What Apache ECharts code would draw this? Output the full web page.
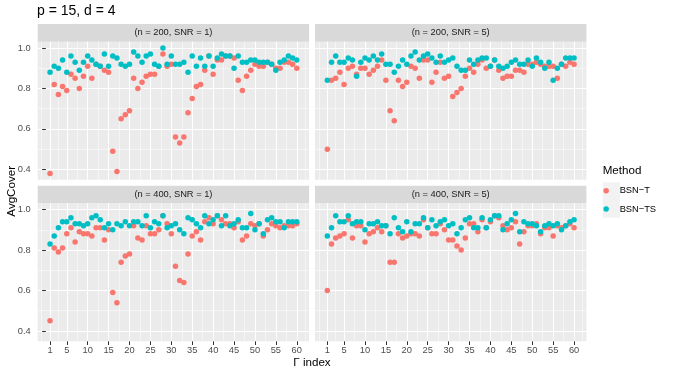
<!DOCTYPE html>
<html>
<head>
<meta charset="utf-8">
<script src="https://cdn.jsdelivr.net/npm/echarts@6/dist/echarts.min.js"></script>
<style>
  html, body { margin: 0; padding: 0; background: #fff; }
  #chart { width: 675px; height: 375px; }
</style>
</head>
<body>
<div id="chart"></div>
<script>
// Γ index 1..60
const gammaIndex = Array.from({ length: 60 }, (_, i) => i + 1)
const xBreaks = [1, 5, 10, 15, 20, 25, 30, 35, 40, 45, 50, 55, 60]
const xMinor = [-1, 3, 7.5, 12.5, 17.5, 22.5, 27.5, 32.5, 37.5, 42.5, 47.5, 52.5, 57.5, 62]
const yBreaks = [0.4, 0.6, 0.8, 1.0]
const yMinor = [0.5, 0.7, 0.9]
const panelLabels = ['(n = 200, SNR = 1)', '(n = 200, SNR = 5)', '(n = 400, SNR = 1)', '(n = 400, SNR = 5)']
const methods = ['BSN\u2212T', 'BSN\u2212TS']

// AvgCover, BSN-T
const t200snr1 = [0.38, 0.82, 0.77, 0.81, 0.79, 0.87, 0.85, 0.80, 0.86, 0.91,
  0.85, 0.92, 0.91, 0.89, 0.88, 0.49, 0.39, 0.65, 0.67, 0.69,
  0.85, 0.80, 0.83, 0.86, 0.87, 0.87, 0.91, 0.97, 0.91, 0.92,
  0.56, 0.53, 0.56, 0.68, 0.75, 0.81, 0.82, 0.89, 0.96, 0.87,
  0.94, 0.94, 0.96, 0.96, 0.95, 0.84, 0.79, 0.86, 0.89, 0.92,
  0.91, 0.91, 0.93, 0.92, 0.90, 0.90, 0.93, 0.93, 0.92, 0.90]
const t200snr5 = [0.50, 0.84, 0.85, 0.88, 0.82, 0.90, 0.91, 0.87, 0.90, 0.90,
  0.87, 0.89, 0.91, 0.94, 0.84, 0.69, 0.64, 0.84, 0.81, 0.83,
  0.91, 0.90, 0.85, 0.94, 0.94, 0.83, 0.88, 0.93, 0.85, 0.86,
  0.76, 0.78, 0.80, 0.86, 0.90, 0.88, 0.92, 0.94, 0.90, 0.91,
  0.94, 0.89, 0.85, 0.86, 0.86, 0.89, 0.89, 0.88, 0.92, 0.92,
  0.93, 0.92, 0.91, 0.91, 0.91, 0.85, 0.92, 0.91, 0.93, 0.92]
const t400snr1 = [0.45, 0.81, 0.79, 0.81, 0.88, 0.91, 0.84, 0.89, 0.88, 0.88,
  0.87, 0.91, 0.91, 0.85, 0.90, 0.59, 0.54, 0.74, 0.77, 0.78,
  0.92, 0.86, 0.85, 0.92, 0.88, 0.88, 0.90, 0.97, 0.93, 0.88,
  0.72, 0.65, 0.64, 0.78, 0.87, 0.89, 0.85, 0.94, 0.96, 0.93,
  0.97, 0.95, 0.93, 0.93, 0.91, 0.94, 0.85, 0.87, 0.93, 0.92,
  0.93, 0.87, 0.90, 0.93, 0.92, 0.91, 0.92, 0.92, 0.92, 0.93]
const t400snr5 = [0.60, 0.83, 0.86, 0.87, 0.88, 0.95, 0.86, 0.92, 0.92, 0.84,
  0.88, 0.89, 0.91, 0.89, 0.92, 0.74, 0.74, 0.88, 0.86, 0.87,
  0.88, 0.88, 0.87, 0.95, 0.91, 0.88, 0.88, 0.93, 0.90, 0.85,
  0.85, 0.82, 0.80, 0.86, 0.93, 0.93, 0.89, 0.95, 0.91, 0.94,
  0.97, 0.96, 0.92, 0.90, 0.91, 0.94, 0.83, 0.89, 0.92, 0.92,
  0.93, 0.88, 0.91, 0.91, 0.87, 0.92, 0.91, 0.92, 0.93, 0.91]

// AvgCover, BSN-TS
const ts200snr1 = [0.88, 0.91, 0.90, 0.94, 0.88, 0.96, 0.93, 0.89, 0.93, 0.96,
  0.94, 0.92, 0.91, 0.97, 0.91, 0.96, 0.95, 0.92, 0.91, 0.92,
  0.98, 0.96, 0.93, 0.96, 0.97, 0.92, 0.91, 1.00, 0.92, 0.96,
  0.92, 0.92, 0.93, 0.88, 0.96, 0.91, 0.95, 0.91, 0.96, 0.91,
  0.95, 0.97, 0.96, 0.96, 0.90, 0.96, 0.93, 0.93, 0.94, 0.94,
  0.93, 0.93, 0.93, 0.92, 0.89, 0.93, 0.94, 0.96, 0.95, 0.94]
const ts200snr5 = [0.84, 0.93, 0.96, 0.93, 0.93, 0.95, 0.94, 0.86, 0.93, 0.95,
  0.94, 0.96, 0.94, 0.97, 0.92, 0.92, 0.88, 0.91, 0.94, 0.92,
  0.96, 0.98, 0.94, 0.96, 0.97, 0.95, 0.93, 0.96, 0.93, 0.94,
  0.95, 0.91, 0.89, 0.89, 0.94, 0.92, 0.94, 0.95, 0.95, 0.91,
  0.94, 0.91, 0.90, 0.91, 0.93, 0.94, 0.92, 0.92, 0.94, 0.91,
  0.95, 0.93, 0.90, 0.93, 0.84, 0.90, 0.92, 0.95, 0.95, 0.95]
const ts400snr1 = [0.83, 0.87, 0.91, 0.94, 0.94, 0.96, 0.93, 0.93, 0.92, 0.93,
  0.96, 0.97, 0.95, 0.91, 0.93, 0.90, 0.93, 0.92, 0.94, 0.92,
  0.94, 0.94, 0.92, 0.97, 0.91, 0.94, 0.93, 0.97, 0.91, 0.92,
  0.93, 0.90, 0.88, 0.96, 0.95, 0.93, 0.91, 0.97, 0.93, 0.95,
  0.97, 0.92, 0.97, 0.92, 0.93, 0.95, 0.91, 0.91, 0.98, 0.90,
  0.93, 0.88, 0.95, 0.96, 0.94, 0.94, 0.91, 0.94, 0.94, 0.94]
const ts400snr5 = [0.87, 0.91, 0.97, 0.94, 0.94, 0.97, 0.93, 0.94, 0.94, 0.90,
  0.93, 0.93, 0.94, 0.92, 0.92, 0.88, 0.96, 0.91, 0.89, 0.94,
  0.89, 0.93, 0.93, 0.96, 0.91, 0.95, 0.92, 0.94, 0.95, 0.92,
  0.93, 0.88, 0.91, 0.95, 0.96, 0.91, 0.91, 0.96, 0.91, 0.95,
  0.97, 0.97, 0.90, 0.93, 0.95, 0.98, 0.89, 0.94, 0.93, 0.93,
  0.92, 0.89, 0.92, 0.93, 0.92, 0.93, 0.90, 0.92, 0.94, 0.95]

const tData = [t200snr1, t200snr5, t400snr1, t400snr5]
const tsData = [ts200snr1, ts200snr5, ts400snr1, ts400snr5]

const FONT = '"Liberation Sans", Arial, sans-serif'
const COLORS = ['#F8766D', '#00BFC4']
// panel layout (px)
const panelLeft = [37.7, 315, 37.7, 315]
const panelTop = [41.7, 41.7, 203.3, 203.3]
const panelW = 271.4
const panelH = 138
const stripH = 17.6
const xMin = -1.95
const xMax = 62.95
const yMin = 0.349
const yMax = 1.031

const toPoints = arr => arr.map((v, i) => [gammaIndex[i], v])

const grid = []
const xAxis = []
const yAxis = []
const series = []
const graphic = []

for (let p = 0; p < 4; p++) {
  const bottomRow = p >= 2
  const leftCol = p % 2 === 0
  grid.push({
    left: panelLeft[p], top: panelTop[p], width: panelW, height: panelH,
    show: true, backgroundColor: '#EBEBEB', borderWidth: 0, outerBoundsMode: 'none'
  })
  // major x
  xAxis.push({
    type: 'value', gridIndex: p, min: xMin, max: xMax, position: 'bottom',
    axisLine: { show: false },
    axisTick: { show: bottomRow, customValues: xBreaks, length: 3.7, lineStyle: { color: '#333333', width: 1 } },
    axisLabel: { show: bottomRow, customValues: xBreaks, margin: 5, color: '#4D4D4D', fontSize: 9.3, fontFamily: FONT },
    splitLine: { show: true, lineStyle: { color: '#FFFFFF', width: 1.07 } },
    z: 1
  })
  // minor x
  xAxis.push({
    type: 'value', gridIndex: p, min: xMin, max: xMax, position: 'top',
    axisLine: { show: false },
    axisTick: { show: false, customValues: xMinor },
    axisLabel: { show: false, customValues: xMinor },
    splitLine: { show: true, lineStyle: { color: '#FFFFFF', width: 0.53 } },
    z: 0
  })
  // major y
  yAxis.push({
    type: 'value', gridIndex: p, min: yMin, max: yMax, position: 'left',
    axisLine: { show: false },
    axisTick: { show: leftCol, customValues: yBreaks, length: 3.7, lineStyle: { color: '#333333', width: 1 } },
    axisLabel: {
      show: leftCol, customValues: yBreaks, margin: 7, color: '#4D4D4D', fontSize: 9.3, fontFamily: FONT,
      formatter: v => v.toFixed(1)
    },
    splitLine: { show: true, lineStyle: { color: '#FFFFFF', width: 1.07 } },
    z: 1
  })
  // minor y
  yAxis.push({
    type: 'value', gridIndex: p, min: yMin, max: yMax, position: 'right',
    axisLine: { show: false },
    axisTick: { show: false, customValues: yMinor },
    axisLabel: { show: false, customValues: yMinor },
    splitLine: { show: true, lineStyle: { color: '#FFFFFF', width: 0.53 } },
    z: 0
  })

  const pointData = [tData[p], tsData[p]]
  for (let m = 0; m < 2; m++) {
    series.push({
      type: 'scatter',
      name: methods[m],
      xAxisIndex: 2 * p,
      yAxisIndex: 2 * p,
      data: toPoints(pointData[m]),
      symbol: 'circle',
      symbolSize: 5.5,
      itemStyle: { color: COLORS[m], opacity: 1 },
      silent: true
    })
  }

  // facet strip
  graphic.push({
    type: 'rect', silent: true,
    shape: { x: panelLeft[p], y: panelTop[p] - stripH, width: panelW, height: stripH },
    style: { fill: '#D9D9D9' }
  })
  graphic.push({
    type: 'text', silent: true,
    x: panelLeft[p] + panelW / 2, y: panelTop[p] - stripH / 2,
    style: { text: panelLabels[p], fill: '#1A1A1A', fontSize: 9.3, fontFamily: FONT, align: 'center', verticalAlign: 'middle' }
  })
}

// legend key background
graphic.push({
  type: 'rect', silent: true, z: -1,
  shape: { x: 602.7, y: 182.3, width: 17.4, height: 35.4 },
  style: { fill: '#F2F2F2' }
})
// axis titles
graphic.push({
  type: 'text', silent: true, rotation: Math.PI / 2,
  x: 12, y: 191.3,
  style: { text: 'AvgCover', fill: '#000000', fontSize: 11.6, fontFamily: FONT, align: 'center', verticalAlign: 'middle' }
})
graphic.push({
  type: 'text', silent: true,
  x: 312, y: 363,
  style: { text: '\u0393 index', fill: '#000000', fontSize: 11.6, fontFamily: FONT, align: 'center', verticalAlign: 'middle' }
})

const option = {
  animation: false,
  backgroundColor: '#FFFFFF',
  title: [
    { text: 'p = 15, d = 4', left: 37, top: 4, padding: 0,
      textStyle: { fontSize: 14, fontWeight: 'normal', color: '#000000', fontFamily: FONT } },
    { text: 'Method', left: 602.7, top: 164.5, padding: 0,
      textStyle: { fontSize: 11.6, fontWeight: 'normal', color: '#000000', fontFamily: FONT } }
  ],
  legend: {
    data: methods,
    orient: 'vertical',
    left: 603.4,
    top: 182.2,
    padding: 0,
    itemWidth: 17,
    itemHeight: 5.5,
    itemGap: 1.3,
    icon: 'circle',
    selectedMode: false,
    textStyle: { fontSize: 9.3, color: '#000000', fontFamily: FONT, lineHeight: 17 }
  },
  grid,
  xAxis,
  yAxis,
  series,
  graphic
}

const chart = echarts.init(document.getElementById('chart'))
chart.setOption(option)
</script>
</body>
</html>
